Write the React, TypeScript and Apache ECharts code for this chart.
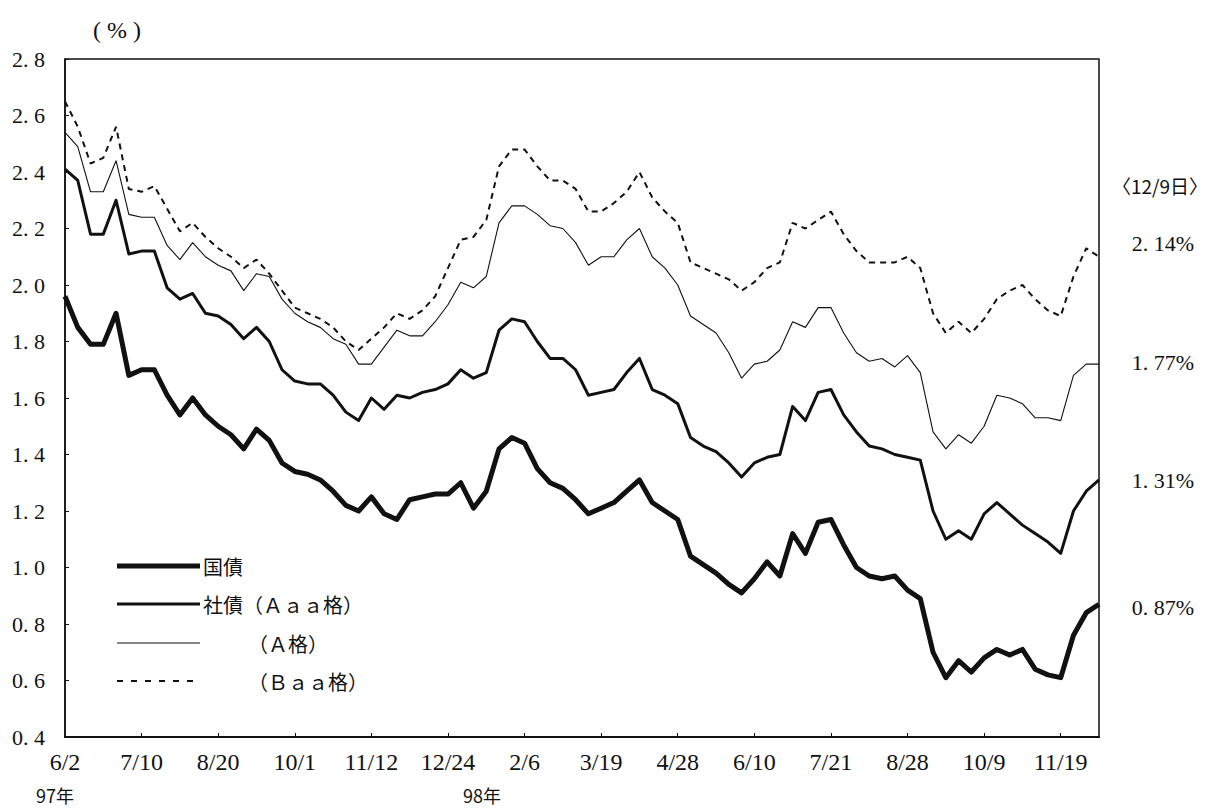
import React, { useEffect, useRef } from "react";
import * as echarts from "echarts";

// Tick labels (dates) on the x axis; 6 samples per tick interval
const dateLabels = ["6/2", "7/10", "8/20", "10/1", "11/12", "12/24", "2/6", "3/19", "4/28", "6/10", "7/21", "8/28", "10/9", "11/19"];
const samplesPerTick = 6;

const jgb = [1.96, 1.85, 1.79, 1.79, 1.9, 1.68, 1.7, 1.7, 1.61, 1.54, 1.6, 1.54, 1.5, 1.47, 1.42, 1.49, 1.45, 1.37, 1.34, 1.33, 1.31, 1.27, 1.22, 1.2, 1.25, 1.19, 1.17, 1.24, 1.25, 1.26, 1.26, 1.3, 1.21, 1.27, 1.42, 1.46, 1.44, 1.35, 1.3, 1.28, 1.24, 1.19, 1.21, 1.23, 1.27, 1.31, 1.23, 1.2, 1.17, 1.04, 1.01, 0.98, 0.94, 0.91, 0.96, 1.02, 0.97, 1.12, 1.05, 1.16, 1.17, 1.08, 1.0, 0.97, 0.96, 0.97, 0.92, 0.89, 0.7, 0.61, 0.67, 0.63, 0.68, 0.71, 0.69, 0.71, 0.64, 0.62, 0.61, 0.76, 0.84, 0.87];
const corpAaa = [2.41, 2.37, 2.18, 2.18, 2.3, 2.11, 2.12, 2.12, 1.99, 1.95, 1.97, 1.9, 1.89, 1.86, 1.81, 1.85, 1.8, 1.7, 1.66, 1.65, 1.65, 1.61, 1.55, 1.52, 1.6, 1.56, 1.61, 1.6, 1.62, 1.63, 1.65, 1.7, 1.67, 1.69, 1.84, 1.88, 1.87, 1.8, 1.74, 1.74, 1.7, 1.61, 1.62, 1.63, 1.69, 1.74, 1.63, 1.61, 1.58, 1.46, 1.43, 1.41, 1.37, 1.32, 1.37, 1.39, 1.4, 1.57, 1.52, 1.62, 1.63, 1.54, 1.48, 1.43, 1.42, 1.4, 1.39, 1.38, 1.2, 1.1, 1.13, 1.1, 1.19, 1.23, 1.19, 1.15, 1.12, 1.09, 1.05, 1.2, 1.27, 1.31];
const corpA = [2.54, 2.49, 2.33, 2.33, 2.44, 2.25, 2.24, 2.24, 2.14, 2.09, 2.15, 2.1, 2.07, 2.05, 1.98, 2.04, 2.03, 1.95, 1.9, 1.87, 1.85, 1.81, 1.79, 1.72, 1.72, 1.78, 1.84, 1.82, 1.82, 1.87, 1.93, 2.01, 1.99, 2.03, 2.22, 2.28, 2.28, 2.25, 2.21, 2.2, 2.15, 2.07, 2.1, 2.1, 2.16, 2.2, 2.1, 2.06, 2.0, 1.89, 1.86, 1.83, 1.76, 1.67, 1.72, 1.73, 1.77, 1.87, 1.85, 1.92, 1.92, 1.83, 1.76, 1.73, 1.74, 1.71, 1.75, 1.69, 1.48, 1.42, 1.47, 1.44, 1.5, 1.61, 1.6, 1.58, 1.53, 1.53, 1.52, 1.68, 1.72, 1.72];
const corpBaa = [2.65, 2.56, 2.43, 2.45, 2.56, 2.34, 2.33, 2.35, 2.27, 2.19, 2.22, 2.17, 2.13, 2.1, 2.06, 2.09, 2.04, 1.98, 1.92, 1.9, 1.88, 1.85, 1.8, 1.77, 1.81, 1.85, 1.9, 1.88, 1.91, 1.96, 2.06, 2.16, 2.17, 2.23, 2.42, 2.48, 2.48, 2.42, 2.37, 2.37, 2.34, 2.26, 2.26, 2.29, 2.33, 2.4, 2.31, 2.26, 2.22, 2.08, 2.06, 2.04, 2.02, 1.98, 2.01, 2.06, 2.08, 2.22, 2.2, 2.23, 2.26, 2.18, 2.12, 2.08, 2.08, 2.08, 2.1, 2.06, 1.9, 1.83, 1.87, 1.83, 1.88, 1.95, 1.98, 2.0, 1.95, 1.91, 1.89, 2.03, 2.13, 2.1];

const latestDate = "〈12/9日〉";
const latestValues = ["2. 14%", "1. 77%", "1. 31%", "0. 87%"];
const legendNames = ["国債", "社債（Ａａａ格）", "（Ａ格）", "（Ｂａａ格）"];
const yearLabels = ["97年", "98年"];

const INK = "#111";
const NUM_FONT = "'Liberation Serif', 'DejaVu Serif', serif";
const CJK_FONT = "'Noto Sans CJK JP', 'Noto Sans', sans-serif";

const toPairs = (arr: number[]) => arr.map((v, i) => [i / samplesPerTick, v]);

const centered = { textAlign: "center", align: "center", textVerticalAlign: "middle", verticalAlign: "middle" };

export default function App() {
  const ref = useRef<HTMLDivElement>(null);
  useEffect(() => {
    if (!ref.current) return;
    const chart = echarts.init(ref.current, null, { renderer: "svg" });
    const legendRows = [566, 604, 643, 681];
    const legendGraphics: any[] = [];
    const widths = [5, 3, 1.1, 2];
    legendRows.forEach((y, k) => {
      legendGraphics.push({
        type: "line",
        shape: { x1: 117, y1: y, x2: 200, y2: y },
        style: { stroke: INK, lineWidth: widths[k], lineDash: k === 3 ? [6, 8] : null },
      });
      legendGraphics.push({
        type: "text",
        x: k < 2 ? 203 : 248,
        y,
        style: { text: legendNames[k], font: `20px ${CJK_FONT}`, fill: INK, textVerticalAlign: "middle", verticalAlign: "middle" },
      });
    });
    const annY = [243, 362, 480, 607];
    const annGraphics = latestValues.map((t, k) => ({
      type: "text",
      x: 1163,
      y: annY[k],
      style: { text: t, font: `22px ${NUM_FONT}`, fill: INK, ...centered },
    }));

    chart.setOption({
      animation: false,
      backgroundColor: "#fff",
      grid: { left: 65, right: 109, top: 59, bottom: 73, show: true, borderColor: INK, borderWidth: 1.5 },
      xAxis: {
        type: "value",
        min: 0,
        max: 13.5,
        interval: 1,
        splitLine: { show: false },
        axisLine: { show: true, lineStyle: { color: INK, width: 2 } },
        axisTick: { show: true, inside: true, length: 4, lineStyle: { color: INK } },
        axisLabel: {
          margin: 13,
          color: INK,
          fontSize: 24,
          fontFamily: NUM_FONT,
          showMaxLabel: false,
          formatter: (v: number) => (Number.isInteger(v) && v < dateLabels.length ? dateLabels[v] : ""),
        },
      },
      yAxis: {
        type: "value",
        min: 0.4,
        max: 2.8,
        interval: 0.2,
        splitLine: { show: false },
        axisLine: { show: true, lineStyle: { color: INK, width: 1.5 } },
        axisTick: { show: true, inside: true, length: 4, lineStyle: { color: INK } },
        axisLabel: {
          margin: 20,
          color: INK,
          fontSize: 22,
          fontFamily: NUM_FONT,
          formatter: (v: number) => v.toFixed(1).replace(".", ". "),
        },
      },
      graphic: [
        { type: "text", x: 117, y: 30, style: { text: "( % )", font: `24px ${NUM_FONT}`, fill: INK, ...centered } },
        { type: "text", x: 55, y: 795, style: { text: yearLabels[0], font: `18px ${CJK_FONT}`, fill: INK, ...centered } },
        { type: "text", x: 482, y: 795, style: { text: yearLabels[1], font: `18px ${CJK_FONT}`, fill: INK, ...centered } },
        { type: "text", x: 1160, y: 185, style: { text: latestDate, font: `19px ${CJK_FONT}`, fill: INK, ...centered } },
        ...annGraphics,
        ...legendGraphics,
      ],
      series: [
        { name: "（Ｂａａ格）", type: "line", data: toPairs(corpBaa), symbol: "none", lineStyle: { color: INK, width: 2, type: [6, 5] } },
        { name: "（Ａ格）", type: "line", data: toPairs(corpA), symbol: "none", lineStyle: { color: INK, width: 1.1 } },
        { name: "社債（Ａａａ格）", type: "line", data: toPairs(corpAaa), symbol: "none", lineStyle: { color: INK, width: 3, join: "round" } },
        { name: "国債", type: "line", data: toPairs(jgb), symbol: "none", lineStyle: { color: INK, width: 5, join: "round" } },
      ],
    });
    return () => chart.dispose();
  }, []);
  return <div ref={ref} style={{ position: "absolute", left: 0, top: 0, width: 1208, height: 810, background: "#fff" }} />;
}
